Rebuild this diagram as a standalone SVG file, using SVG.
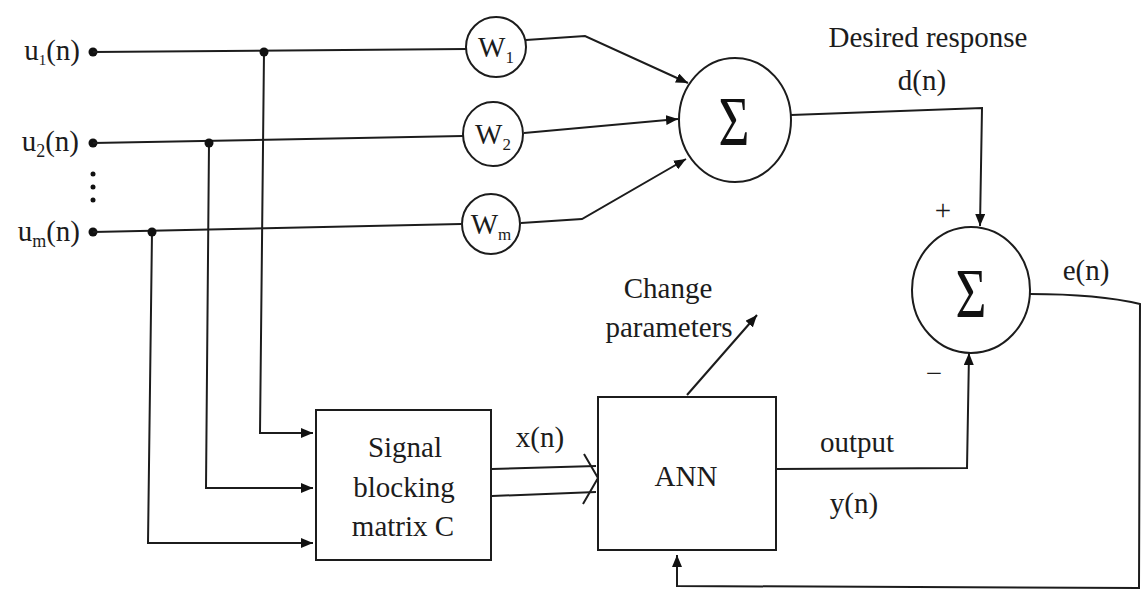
<svg xmlns="http://www.w3.org/2000/svg" width="1143" height="597" viewBox="0 0 1143 597">
<defs>
<style>
.ln{fill:none;stroke:#1c1c1c;stroke-width:2}
.nd{fill:#fff;stroke:#1c1c1c;stroke-width:2}
.t{font-family:"Liberation Serif","Times New Roman",serif;font-size:29px;fill:#1c1c1c}
.c{text-anchor:middle}
.dot{fill:#111}
.sig{font-family:"Liberation Serif","Times New Roman",serif;font-size:70px;fill:#111;text-anchor:middle}
</style>
<marker id="ar" viewBox="0 0 12 10" refX="12" refY="5" markerWidth="12" markerHeight="10" markerUnits="userSpaceOnUse" orient="auto">
<path d="M0,0 L12,5 L0,10 Z" fill="#111"/>
</marker>
</defs>
<rect width="1143" height="597" fill="#fff"/>

<g id="inputs">
<text class="t" x="80" y="60" text-anchor="end" font-size="30">u<tspan font-size="15" dy="5">1</tspan><tspan dy="-5">(n)</tspan></text>
<text class="t" x="79" y="151" text-anchor="end" font-size="30">u<tspan font-size="18" dy="6">2</tspan><tspan dy="-6">(n)</tspan></text>
<text class="t" x="80" y="241" text-anchor="end" font-size="30">u<tspan font-size="18" dy="6">m</tspan><tspan dy="-6">(n)</tspan></text>
<circle class="dot" cx="93" cy="52" r="4.5"/>
<circle class="dot" cx="93" cy="143" r="4.5"/>
<circle class="dot" cx="93" cy="232" r="4.5"/>
<circle class="dot" cx="93" cy="174" r="2.5"/>
<circle class="dot" cx="93" cy="187" r="2.5"/>
<circle class="dot" cx="93" cy="200" r="2.5"/>
</g>

<g id="connectors">
<polyline class="ln" points="93,52 466,49"/>
<polyline class="ln" points="93,143 463,136"/>
<polyline class="ln" points="93,232 461,224"/>
<polyline class="ln" points="264,52 260,433 313,433" marker-end="url(#ar)"/>
<polyline class="ln" points="209,143 206,488 313,488" marker-end="url(#ar)"/>
<polyline class="ln" points="152,232 148,543 313,543" marker-end="url(#ar)"/>
<polyline class="ln" points="526,40 585,36 688,83" marker-end="url(#ar)"/>
<polyline class="ln" points="524,133 678,119" marker-end="url(#ar)"/>
<polyline class="ln" points="521,223 582,219 686,159" marker-end="url(#ar)"/>
<polyline class="ln" points="791,115 982,108 980,226" marker-end="url(#ar)"/>
<polyline class="ln" points="776,469 967,468 969,353" marker-end="url(#ar)"/>
<path class="ln" d="M1030,294 C1080,294 1115,298 1140,304 L1139,588 L677,586 L677,555" marker-end="url(#ar)"/>
<line class="ln" x1="492" y1="469" x2="596" y2="466"/>
<line class="ln" x1="492" y1="496" x2="596" y2="492"/>
<polyline class="ln" points="584,454 598,478 583,504"/>
<line class="ln" x1="687" y1="395" x2="757" y2="315" marker-end="url(#ar)"/>
<circle class="dot" cx="264" cy="52" r="4.5"/>
<circle class="dot" cx="209" cy="143" r="4.5"/>
<circle class="dot" cx="152" cy="232" r="4.5"/>
</g>

<g id="w1">
<ellipse class="nd" cx="496" cy="47" rx="30" ry="30"/>
<text class="t" x="496" y="57" text-anchor="middle" font-size="30">W<tspan font-size="17" dy="6">1</tspan></text>
</g>
<g id="w2">
<ellipse class="nd" cx="493" cy="134" rx="30" ry="32"/>
<text class="t" x="493" y="144" text-anchor="middle" font-size="30">W<tspan font-size="17" dy="6">2</tspan></text>
</g>
<g id="wm">
<ellipse class="nd" cx="491" cy="224" rx="29" ry="30"/>
<text class="t" x="491" y="234" text-anchor="middle" font-size="30">W<tspan font-size="17" dy="6">m</tspan></text>
</g>

<g id="sum1">
<ellipse class="nd" cx="735" cy="120" rx="56" ry="62"/>
<text class="sig" transform="translate(734,145) scale(0.76,1)">Σ</text>
</g>

<g id="desired">
<text class="t c" x="928" y="47" font-size="33">Desired response</text>
<text class="t c" x="922" y="90" font-size="32">d(n)</text>
</g>

<g id="sum2">
<ellipse class="nd" cx="971" cy="290" rx="59" ry="63"/>
<text class="sig" transform="translate(971,317) scale(0.76,1)">Σ</text>
<text class="t c" x="943" y="220" font-size="30">+</text>
<text class="t c" x="934" y="383" font-size="30">−</text>
<text class="t c" x="1086" y="280" font-size="31">e(n)</text>
</g>

<g id="blocking">
<rect class="nd" x="316" y="410" width="175" height="150"/>
<text class="t c" x="405" y="457">Signal</text>
<text class="t c" x="404" y="497">blocking</text>
<text class="t c" x="403" y="536">matrix C</text>
<text class="t c" x="540" y="447" font-size="28">x(n)</text>
</g>

<g id="ann">
<rect class="nd" x="598" y="397" width="178" height="153"/>
<text class="t c" x="686" y="486">ANN</text>
<text class="t c" x="857" y="452" font-size="31">output</text>
<text class="t c" x="854" y="513" font-size="31">y(n)</text>
<text class="t c" x="668" y="298">Change</text>
<text class="t c" x="669" y="337">parameters</text>
</g>
</svg>
